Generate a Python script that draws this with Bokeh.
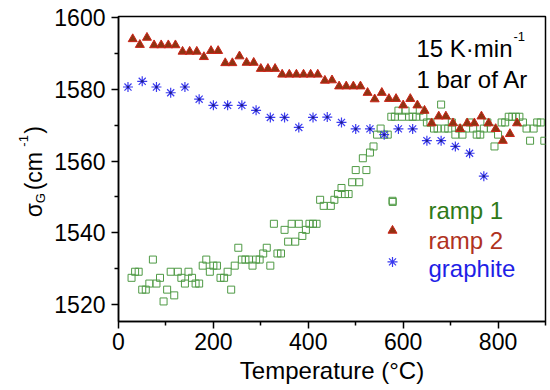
import math
from bokeh.plotting import figure
from bokeh.layouts import row
from bokeh.models import Label, Range1d, FixedTicker
from bokeh.embed import file_html
from bokeh.resources import INLINE

# ---------------- data ----------------
ramp1_T = [27.5, 35, 42.5, 50, 57.5, 65, 72.5, 80, 87.5, 95, 102.5, 110, 117.5, 125, 132.5,
           140, 147.5, 155, 162.5, 170, 177.5, 185, 192.5, 200, 207.5, 215, 222.5, 230, 237.5,
           245, 252.5, 260, 267.5, 275, 282.5, 290, 297.5, 305, 312.5, 320, 327.5, 335, 342.5,
           350, 357.5, 365, 372.5, 380, 387.5, 395, 402.5, 410, 417.5, 425, 432.5, 447.5, 455,
           462.5, 470, 477.5, 485, 492.5, 500, 507.5, 515, 522.5, 530, 537.5, 545, 552.5, 560,
           567.5, 578, 575, 582.5, 590, 597.5, 605, 612.5, 620, 627.5, 635, 642.5, 650, 657.5,
           665, 672.5, 680, 687.5, 695, 702.5, 710, 717.5, 725, 732.5, 740, 747.5, 755, 762.5,
           770, 777.5, 785, 792.5, 800, 807.5, 815, 822.5, 830, 837.5, 845, 852.5, 860, 867.5,
           875, 882.5, 890, 897.5]
ramp1_v = [1527.4, 1529.1, 1529.1, 1524.1, 1524.1, 1525.8, 1532.5, 1525.8, 1527.4, 1520.8,
           1524.1, 1529.1, 1522.5, 1529.1, 1527.4, 1525.8, 1529.1, 1527.4, 1525.8, 1525.8,
           1530.8, 1532.5, 1529.1, 1530.8, 1530.8, 1527.4, 1527.4, 1529.1, 1524.1, 1530.8,
           1535.8, 1532.5, 1532.5, 1532.5, 1530.8, 1532.5, 1532.5, 1534.2, 1535.8, 1530.8,
           1542.5, 1534.2, 1534.2, 1540.8, 1537.5, 1542.5, 1537.5, 1542.5, 1539.1, 1540.8,
           1542.5, 1542.5, 1542.5, 1549.2, 1547.5, 1547.5, 1549.2, 1550.8, 1552.5, 1550.8,
           1550.8, 1554.1, 1557.5, 1554.1, 1560.8, 1557.5, 1562.4, 1564.1, 1567.4, 1569.1,
           1567.4, 1567.4, 1548.6, 1572.4, 1572.4, 1574.1, 1572.4, 1574.1, 1572.4, 1572.4,
           1572.4, 1574.1, 1572.4, 1570.8, 1570.8, 1569.1, 1569.1, 1575.8, 1569.1, 1569.1,
           1570.8, 1567.4, 1569.1, 1567.4, 1569.1, 1570.8, 1569.1, 1567.4, 1567.4, 1569.1,
           1570.8, 1569.1, 1564.1, 1567.4, 1570.8, 1570.8, 1572.4, 1572.4, 1572.4, 1572.4,
           1570.8, 1569.1, 1565.7, 1569.1, 1570.8, 1570.8, 1565.7]

ramp2_T = [30, 45, 60, 75, 90, 105, 120, 135, 150, 165, 180, 195, 210, 225, 240, 255, 270,
           285, 300, 315, 330, 345, 360, 375, 390, 405, 420, 435, 450, 465, 480, 495, 510,
           525, 540, 555, 570, 585, 600, 615, 630, 645, 660, 675, 690, 705, 720, 735, 750,
           765, 780, 795, 810, 825, 840]
ramp2_v = [1594.1, 1592.5, 1594.5, 1592.4, 1592.4, 1592.4, 1592.4, 1590.6, 1590.6, 1590.6,
           1589.1, 1590.8, 1590.8, 1587.4, 1587.4, 1589.3, 1587.5, 1587.5, 1585.8, 1585.8,
           1585.8, 1584.2, 1584.2, 1584.2, 1584.2, 1584.2, 1584.2, 1582.5, 1582.6, 1580.9,
           1580.9, 1580.9, 1580.9, 1579.1, 1577.3, 1579.1, 1577.4, 1577.4, 1575.6, 1577.4,
           1575.6, 1574.1, 1570.6, 1572.5, 1572.5, 1570.6, 1569.0, 1570.6, 1570.6, 1572.5,
           1570.6, 1569.0, 1565.7, 1567.6, 1570.6]

graph_T = [20, 50, 80, 110, 140, 170, 200, 230, 260, 290, 320, 350, 380, 410, 440, 470, 500,
           530, 560, 590, 620, 650, 680, 710, 740, 770]
graph_v = [1580.7, 1582.3, 1580.7, 1579.1, 1580.7, 1577.3, 1575.6, 1575.6, 1575.6, 1574.2,
           1572.2, 1572.2, 1569.4, 1572.2, 1572.3, 1570.8, 1569.0, 1569.0, 1567.4, 1569.0,
           1569.0, 1565.7, 1565.7, 1564.1, 1562.2, 1555.8]

x_ticks = [0, 200, 400, 600, 800]
x_minor = [100, 300, 500, 700, 900]
y_ticks = [1520, 1540, 1560, 1580, 1600]
y_minor = [1530, 1550, 1570, 1590]
series_names = ["ramp 1", "ramp 2", "graphite"]

# ---------------- styles ----------------
FONT = "Liberation Sans"
C_R1 = "#4f9a45"
C_R1_TXT = "#2f7a18"
C_R2_FILL = "#8e3412"
C_R2_LINE = "#cc2418"
C_R2_TXT = "#b0331f"
C_GR = "#3b3bf0"
C_GR_TXT = "#1f1fe6"

X0, X1 = 0, 900
Y0, Y1 = 1515.2, 1600.4
H = 386
LEFT_W = 50
FRAME_L, FRAME_W, FRAME_T, FRAME_H = 118.0, 427.0, 16.0, 307.0

p = figure(width=498, height=H, output_backend="svg", toolbar_location=None,
           x_range=Range1d(X0, X1), y_range=Range1d(Y0, Y1))
p.min_border_left = 68
p.min_border_right = 3
p.min_border_top = 16
p.min_border_bottom = 10
p.background_fill_color = "white"
p.border_fill_color = "white"
p.grid.visible = False
p.outline_line_color = "black"
p.outline_line_width = 1.5

for ax in (p.xaxis[0], p.yaxis[0]):
    ax.axis_line_width = 1.5
    ax.major_tick_line_width = 1.5
    ax.minor_tick_line_width = 1.5
    ax.major_tick_in = 0
    ax.major_tick_out = 7
    ax.minor_tick_in = 0
    ax.minor_tick_out = 4
    ax.major_label_text_font = FONT
    ax.major_label_text_font_size = "23px"
    ax.major_label_text_color = "black"
    ax.axis_label_text_font = FONT
    ax.axis_label_text_font_size = "24px"
    ax.axis_label_text_font_style = "normal"
    ax.axis_label_text_color = "black"

p.xaxis.ticker = FixedTicker(ticks=x_ticks, minor_ticks=x_minor)
p.yaxis.ticker = FixedTicker(ticks=y_ticks, minor_ticks=y_minor)
p.xaxis.axis_label = "Temperature (\u00b0C)"
p.xaxis.major_label_standoff = 4
p.xaxis.axis_label_standoff = 4
p.yaxis.major_label_standoff = 6

# data
p.scatter(ramp1_T, ramp1_v, marker="square", size=7, fill_color=None,
          line_color=C_R1, line_width=1)
p.scatter(ramp2_T, ramp2_v, marker="triangle", size=9, fill_color=C_R2_FILL,
          line_color=C_R2_LINE, line_width=1)
p.scatter(graph_T, graph_v, marker="asterisk", size=10, line_color=C_GR, line_width=1.2)
p.scatter(graph_T, graph_v, marker="circle", size=2.5, fill_color="#202080", line_color=None)


def px2x(px):
    return X0 + (px - FRAME_L) * (X1 - X0) / FRAME_W


def py2y(py):
    return Y1 - (py - FRAME_T) * (Y1 - Y0) / FRAME_H


# custom legend with coloured labels
leg_marker_x = px2x(392)
leg_rows = [201.5, 231.5, 263.0]
leg_base = [211.0, 241.0, 270.0]
p.scatter([leg_marker_x], [py2y(leg_rows[0])], marker="square", size=7, fill_color=None,
          line_color=C_R1, line_width=1)
p.scatter([leg_marker_x], [py2y(leg_rows[1])], marker="triangle", size=9,
          fill_color=C_R2_FILL, line_color=C_R2_LINE, line_width=1)
p.scatter([leg_marker_x], [py2y(leg_rows[2])], marker="asterisk", size=10,
          line_color=C_GR, line_width=1.2)
for name, base, col in zip(series_names, leg_base, [C_R1_TXT, C_R2_TXT, C_GR_TXT]):
    p.add_layout(Label(x=px2x(428), y=py2y(base), text=name, text_font=FONT,
                       text_font_size="24px", text_color=col, text_align="left",
                       text_baseline="alphabetic"))

# annotation text
p.add_layout(Label(x=px2x(416), y=py2y(48), text="15 K\u00b7min", text_font=FONT,
                   text_font_size="24px", text_color="black", text_baseline="alphabetic"))
p.add_layout(Label(x=px2x(513), y=py2y(36), text="-1", text_font=FONT,
                   text_font_size="13px", text_color="black", text_baseline="alphabetic"))
p.add_layout(Label(x=px2x(416), y=py2y(79), text="1 bar of Ar", text_font=FONT,
                   text_font_size="24px", text_color="black", text_baseline="alphabetic"))

# left strip holding the composed y-axis title  sigma_G (cm^-1)
# (its frame is aligned with the main frame, so data y = page y)
lf = figure(width=LEFT_W, height=H, output_backend="svg", toolbar_location=None,
            x_range=Range1d(0, LEFT_W), y_range=Range1d(FRAME_T + FRAME_H, FRAME_T),
            x_axis_type=None, y_axis_type=None)
lf.min_border = 0
lf.min_border_top = 16
lf.grid.visible = False
lf.outline_line_color = None
lf.background_fill_color = "white"
lf.border_fill_color = "white"
rot = math.pi / 2
ylab = [("\u03c3", 33, 218, "23px"), ("G", 40, 204, "13px"), ("(cm", 33, 191, "23px"),
        ("-1", 23, 147, "13px"), (")", 33, 134, "23px")]
for txt, bx, by, fs in ylab:
    lf.add_layout(Label(x=bx, y=by, text=txt, angle=rot, text_font=FONT,
                        text_font_size=fs, text_color="black", text_align="left",
                        text_baseline="alphabetic"))

layout = row(lf, p, spacing=0)
open("out.html", "w").write(file_html(layout, INLINE))
